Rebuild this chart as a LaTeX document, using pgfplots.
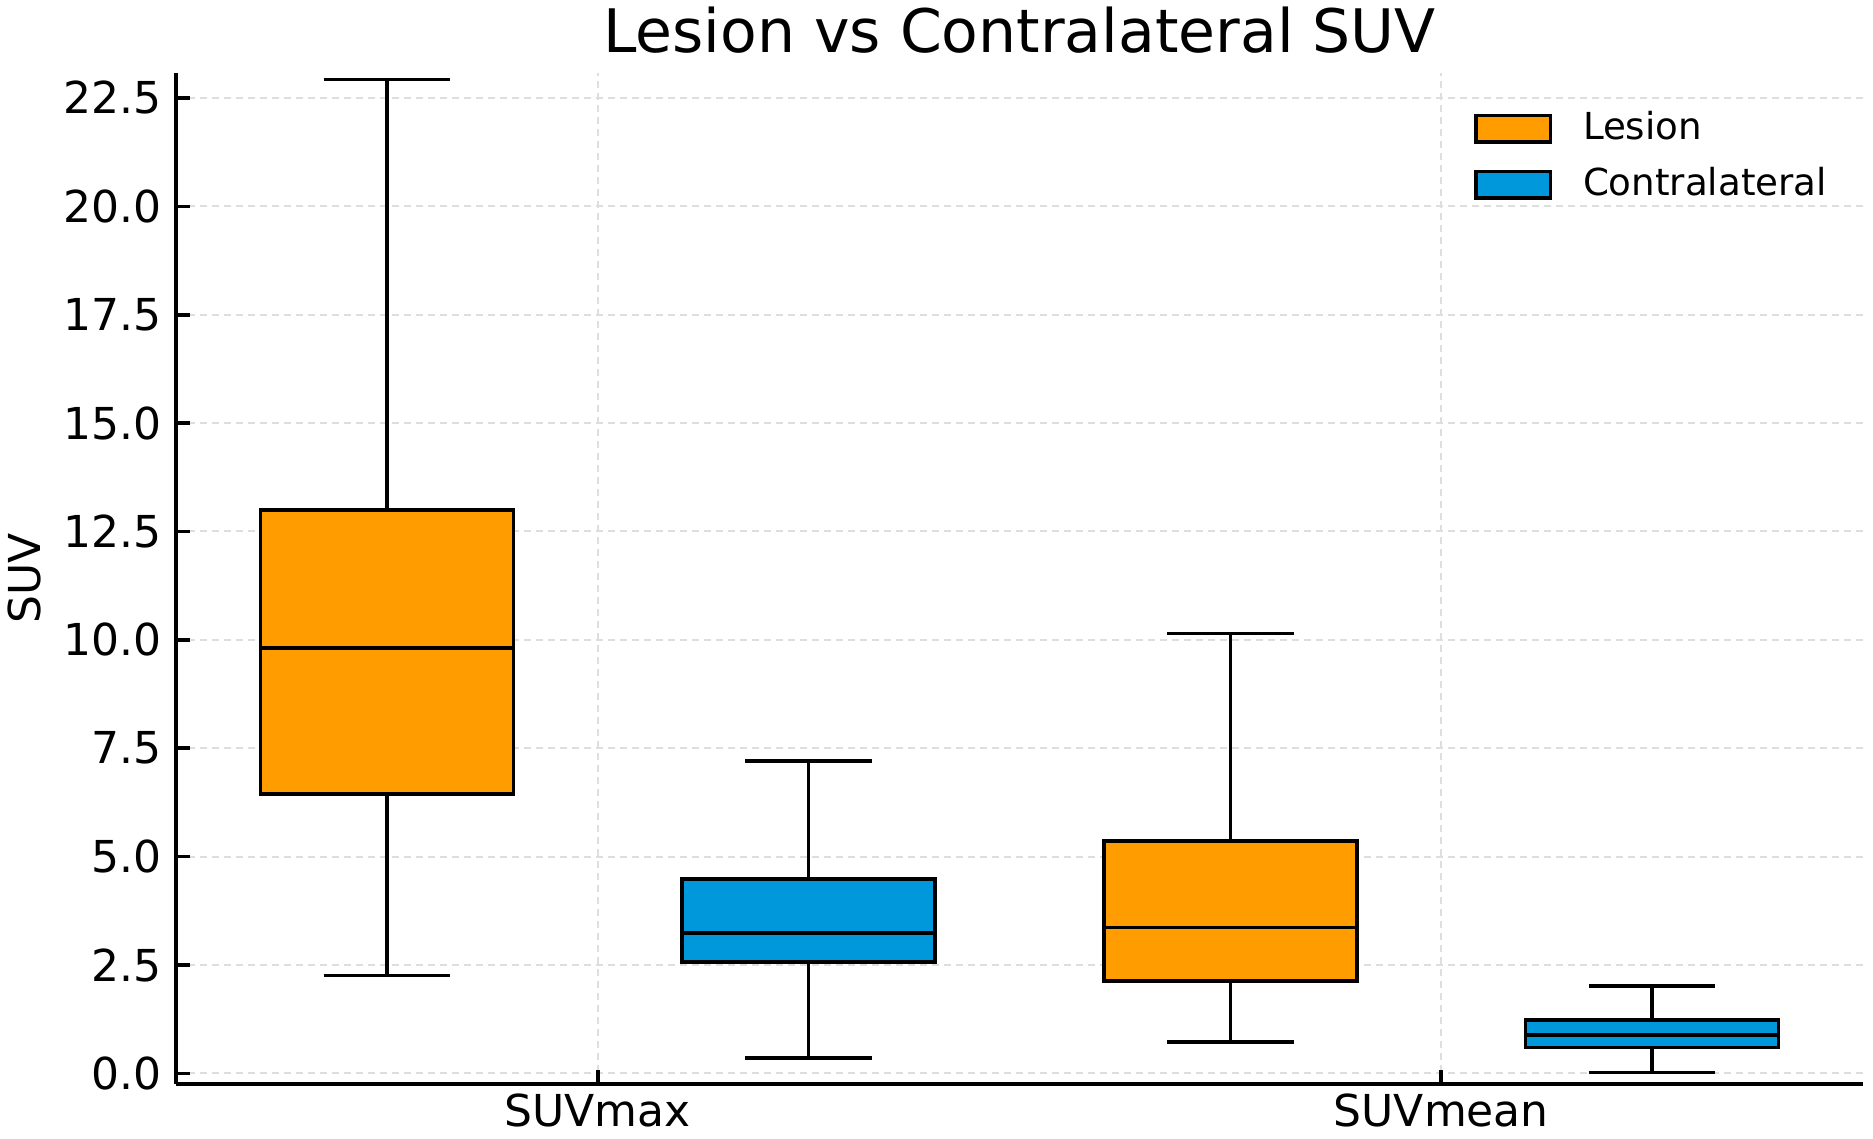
\documentclass[border=0pt]{standalone}
\usepackage{fontspec}
\setmainfont{DejaVu Sans}
\usepackage{pgfplots}
\pgfplotsset{compat=1.18}
\usepgfplotslibrary{statistics}
\definecolor{lesion}{HTML}{FF9C00}
\definecolor{contra}{HTML}{0098DA}
\definecolor{gridc}{HTML}{DEDEDE}
\begin{document}
\begin{tikzpicture}
\begin{axis}[
  name=ax,
  scale only axis,
  width=421.75pt, height=252.75pt,
  xmin=-0.5, xmax=1.5,
  ymin=-0.24, ymax=23.08,
  axis x line*=bottom, axis y line*=left,
  axis line style={line width=0.9pt, -},
  tick align=inside,
  major tick length=3.5pt,
  tick style={line width=0.9pt, black},
  xtick={0,1}, xticklabels={SUVmax,SUVmean},
  ytick={0,2.5,...,22.5},
  yticklabel style={/pgf/number format/fixed, /pgf/number format/fixed zerofill, /pgf/number format/precision=1},
  /pgf/number format/assume math mode=true,
  ticklabel style={font=\fontsize{11}{13}\selectfont},
  xticklabel style={yshift=1pt},
  grid=major,
  major grid style={gridc, line width=0.5pt, dash pattern=on 1.8pt off 1.2pt},
  ylabel={SUV},
  ylabel style={font=\fontsize{11}{13}\selectfont, at={(axis description cs:-0.0898,0.5)}, anchor=center},
  title={Lesion vs Contralateral SUV},
  title style={font=\fontsize{15}{18}\selectfont, at={(axis description cs:0.5,1)}, anchor=base, yshift=-1pt},
  legend style={draw=none, fill=none, font=\fontsize{9.3}{11}\selectfont,
    at={(axis description cs:1,1)}, anchor=north east, xshift=-3.8pt, yshift=-5.5pt,
    row sep=1.4pt, cells={anchor=west}},
  legend image code/.code={\draw[#1] (0pt,-3.3pt) rectangle (18.6pt,3.3pt); \path (24.3pt,0pt);},
  boxplot/draw direction=y,
  boxplot/box extend=0.3,
  boxplot/whisker extend=0.15,
]
\addplot[forget plot, draw=black, fill=lesion, line width=0.9pt,
  boxplot prepared={draw position=-0.25, lower whisker=2.26, lower quartile=6.44, median=9.81, upper quartile=13.0, upper whisker=22.93}] coordinates {};
\addplot[forget plot, draw=black, fill=contra, line width=0.9pt,
  boxplot prepared={draw position=0.25, lower whisker=0.35, lower quartile=2.57, median=3.24, upper quartile=4.48, upper whisker=7.21}] coordinates {};
\addplot[forget plot, draw=black, fill=lesion, line width=0.9pt,
  boxplot prepared={draw position=0.75, lower whisker=0.72, lower quartile=2.13, median=3.37, upper quartile=5.36, upper whisker=10.15}] coordinates {};
\addplot[forget plot, draw=black, fill=contra, line width=0.9pt,
  boxplot prepared={draw position=1.25, lower whisker=0.02, lower quartile=0.60, median=0.88, upper quartile=1.23, upper whisker=2.02}] coordinates {};
\addlegendimage{draw=black, fill=lesion, line width=0.9pt}
\addlegendentry{Lesion}
\addlegendimage{draw=black, fill=contra, line width=0.9pt}
\addlegendentry{Contralateral}
\end{axis}
\pgfresetboundingbox
\path (ax.south west) ++(-44pt,-13.55pt) rectangle ++(468.25pt,284.5pt);
\end{tikzpicture}
\end{document}
